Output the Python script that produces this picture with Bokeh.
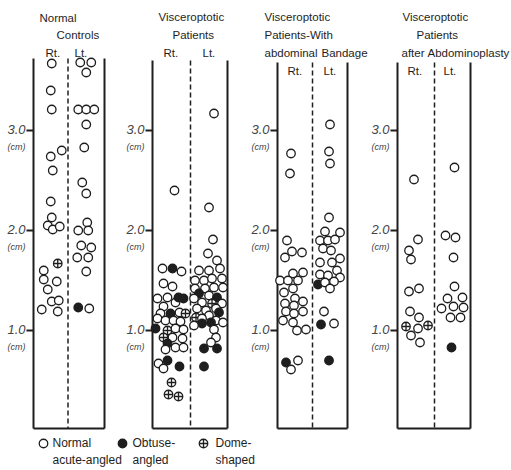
from bokeh.plotting import figure
from bokeh.models import Range1d, ColumnDataSource
from bokeh.embed import file_html
from bokeh.resources import INLINE
from bokeh.core.properties import value

# ---------------- data (cm), lateral offset in the column, kind ----------------
# kind: n = normal acute-angled, o = obtuse-angled, d = dome-shaped
tick_values = [1.0, 2.0, 3.0]
tick_labels = ["1.0", "2.0", "3.0"]
unit_label = "(cm)"
side_labels = ["Rt.", "Lt."]

nc_rt_cm = [3.67, 3.40, 3.21, 2.74, 2.80, 2.60, 2.29, 2.13, 2.05, 2.01, 2.04, 1.67,
            1.60, 1.51, 1.49, 1.41, 1.29, 1.30, 1.21, 1.19]
nc_rt_dx = [1, 0, 1, 0, 11, 2, 0, 1, -3, 2, 9, 7, -7, -7, 6, -3, 1, 8, -9, 7]
nc_rt_kind = list("nnnnnnnnnnnd" + "nnnnnnnn")

nc_lt_cm = [3.68, 3.68, 3.58, 3.21, 3.21, 3.21, 3.06, 2.83, 2.48, 2.37, 2.08, 2.00,
            2.00, 1.85, 1.83, 1.73, 1.73, 1.59, 1.23, 1.22]
nc_lt_dx = [-6, 5, 0, -8, 0, 8, 0, -2, -4, 0, 1, -8, 2, -5, 5, -9, 2, 0, -8, 3]
nc_lt_kind = list("nnnnnnnnnnnnnnnnnn" + "on")

vp_rt_cm = [2.40, 1.62, 1.62, 1.59, 1.47, 1.44, 1.32, 1.33, 1.28, 1.33, 1.32, 1.24,
            1.17, 1.17, 1.18, 1.17, 1.12, 1.10, 1.10, 1.09, 1.02, 1.00, 1.02, 1.01,
            0.93, 0.93, 0.92, 0.87, 0.83, 0.83, 0.81, 0.70, 0.67, 0.62, 0.64, 0.48,
            0.36, 0.34]
vp_rt_dx = [3, -9, 1, 10, -8, 1, -14, -4, 4, 7, 12, -8, -11, -1, 8, 14, -14, -6, 2, 9,
            -16, -4, 4, 12, -8, 1, 11, -4, 4, 12, -6, -4, -13, -8, 8, 0, -3, 7]
vp_rt_kind = list("nnonnnnnnoonnondnnnnodnndnnonnnonnoddd")

vp_lt_cm = [3.17, 2.23, 1.91, 1.77, 1.70, 1.60, 1.60, 1.62, 1.50, 1.50, 1.52, 1.52,
            1.42, 1.42, 1.43, 1.43, 1.37, 1.35, 1.33, 1.32, 1.28, 1.27, 1.27, 1.22,
            1.20, 1.22, 1.18, 1.15, 1.13, 1.12, 1.10, 1.08, 1.07, 1.08, 1.05, 1.01,
            0.93, 0.88, 0.82, 0.82, 0.64]
vp_lt_dx = [5, 0, 4, -1, 8, -10, 0, 11, -14, -5, 3, 13, -14, -4, 5, 14, -10, 0, 8, -15,
            -7, 3, 13, -12, -3, 7, 10, 0, -13, -7, 7, 14, -7, 2, -15, 5, 7, 2, -5, 8, -5]
vp_lt_kind = list("nnnnnnnnnnnnnnnn" + "ononndnnnnondnnnoonnnnooo")

ab_rt_cm = [2.77, 2.57, 1.90, 1.79, 1.78, 1.73, 1.57, 1.58, 1.50, 1.50, 1.50, 1.42,
            1.38, 1.32, 1.29, 1.27, 1.25, 1.19, 1.17, 1.19, 1.10, 1.08, 1.00, 1.01,
            0.68, 0.70, 0.61]
ab_rt_dx = [-4, -5, -8, -3, 7, -10, -2, 8, -15, -7, 3, -2, -11, 0, 8, -10, -1, -9, -1, 8,
            -12, -2, 2, 11, -9, 3, -4]
ab_rt_kind = list("nnnnnnnnnnnnnnnnnnnnnnnn" + "onn")

ab_lt_cm = [3.06, 2.79, 2.67, 2.13, 1.99, 1.98, 1.90, 1.90, 1.91, 1.82, 1.80, 1.68,
            1.68, 1.72, 1.60, 1.56, 1.55, 1.53, 1.46, 1.48, 1.49, 1.42, 1.19, 1.06,
            1.07, 0.70]
ab_lt_dx = [0, -1, 0, -1, -5, 10, -10, -2, 5, -7, 1, -10, 2, 10, 7, -10, -2, 10, -12, -5,
            4, 0, -6, -9, 4, -1]
ab_lt_kind = list("nnnnnnnnnnnnnnnnnn" + "onnnnono")

ap_rt_cm = [2.51, 1.91, 1.80, 1.71, 1.42, 1.39, 1.19, 1.13, 1.04, 1.02, 1.05, 0.95, 0.88]
ap_rt_dx = [-2, 2, -7, -5, 3, -7, -6, 3, -10, 2, 12, -5, 4]
ap_rt_kind = list("nnnnnnnndndnn")

ap_lt_cm = [2.63, 1.95, 1.93, 1.73, 1.44, 1.32, 1.33, 1.24, 1.22, 1.23, 1.13, 1.13, 0.83]
ap_lt_dx = [2, -7, 3, 1, 2, -5, 10, 1, -11, 11, -2, 8, -1]
ap_lt_kind = list("nnnnnnnnnnnno")

legend_kinds = ["n", "o", "d"]
legend_texts = [["Normal", "acute-angled"], ["Obtuse-", "angled"], ["Dome-", "shaped"]]

# ---------------- layout ----------------
W, H = 510, 469
PX_PER_CM = 100.0


def Y(px):
    """page-pixel row -> cm coordinate (layout only)"""
    return 1.0 + (330 - px) / PX_PER_CM


FONT = "Liberation Sans"
INK = "#1e1e1e"
HEAD_SIZE = "11.5px"

panels = [
    dict(left=33, right=104, mid=67.5, top=58,
         cols=[(nc_rt_cm, nc_rt_dx, nc_rt_kind), (nc_lt_cm, nc_lt_dx, nc_lt_kind)],
         head=[("Normal", 39, 17), ("Controls", 56, 34)], side_y=52,
         side_x=[45, 74]),
    dict(left=152, right=227, mid=190, top=60,
         cols=[(vp_rt_cm, vp_rt_dx, vp_rt_kind), (vp_lt_cm, vp_lt_dx, vp_lt_kind)],
         head=[("Visceroptotic", 158, 16), ("Patients", 172, 34)], side_y=52,
         side_x=[163, 202]),
    dict(left=277, right=347, mid=312, top=62,
         cols=[(ab_rt_cm, ab_rt_dx, ab_rt_kind), (ab_lt_cm, ab_lt_dx, ab_lt_kind)],
         head=[("Visceroptotic", 264, 16), ("Patients-With", 264, 34),
               ("abdominal", 264, 52), ("Bandage", 321, 52)], side_y=70,
         side_x=[287, 323]),
    dict(left=397, right=470, mid=434, top=62,
         cols=[(ap_rt_cm, ap_rt_dx, ap_rt_kind), (ap_lt_cm, ap_lt_dx, ap_lt_kind)],
         head=[("Visceroptotic", 402, 16), ("Patients", 416, 34),
               ("after", 401, 52), ("Abdominoplasty", 427, 52)], side_y=70,
         side_x=[407, 443]),
]
BOTTOM = 428

STYLE = {"n": ("circle", "white"), "o": ("circle", INK), "d": ("circle_cross", "white")}

p = figure(width=W, height=H, x_range=Range1d(0, W), y_range=Range1d(Y(H), Y(0)),
           output_backend="svg", toolbar_location=None, min_border=0,
           x_axis_location=None, y_axis_location=None, outline_line_color=None)
p.grid.visible = False
p.background_fill_color = "white"
p.border_fill_color = "white"

xs, ys, mk, fc = [], [], [], []
sx0, sy0, sx1, sy1 = [], [], [], []
tx, ty, tt = [], [], []
lx, ly, lt, ux, uy = [], [], [], [], []

for pn in panels:
    L, R, M, T = pn["left"], pn["right"], pn["mid"], pn["top"]
    # frame: left, right, bottom
    sx0 += [L, R, L]
    sy0 += [Y(T), Y(T), Y(BOTTOM)]
    sx1 += [L, R, R]
    sy1 += [Y(BOTTOM), Y(BOTTOM), Y(BOTTOM)]
    # ticks
    for v, lab in zip(tick_values, tick_labels):
        sx0.append(L - 7)
        sx1.append(L)
        sy0.append(v)
        sy1.append(v)
        lx.append(L - 8)
        ly.append(v + 0.01)
        lt.append(lab)
        ux.append(L - 8)
        uy.append(v - 0.16)
    # header
    for s, x, y in pn["head"]:
        tx.append(x)
        ty.append(Y(y))
        tt.append(s)
    for s, x in zip(side_labels, pn["side_x"]):
        tx.append(x)
        ty.append(Y(pn["side_y"]))
        tt.append(s)
    # points
    centers = [(L + M) / 2.0, (M + R) / 2.0]
    for c, (cm, dx, kind) in zip(centers, pn["cols"]):
        for v, d, k in zip(cm, dx, kind):
            xs.append(c + d)
            ys.append(v)
            mk.append(STYLE[k][0])
            fc.append(STYLE[k][1])

p.segment(x0=sx0, y0=sy0, x1=sx1, y1=sy1, line_color=INK, line_width=2)
p.segment(x0=[pn["mid"] for pn in panels], y0=[Y(pn["top"]) for pn in panels],
          x1=[pn["mid"] for pn in panels], y1=[Y(BOTTOM)] * len(panels),
          line_color=INK, line_width=1.5, line_dash="5 3")

src = ColumnDataSource(dict(x=xs, y=ys, marker=mk, fill=fc))
p.scatter("x", "y", marker="marker", fill_color="fill", line_color=INK, line_width=1.3,
          size=8.5, source=src)

p.text(x=tx, y=ty, text=tt, text_font=value(FONT), text_font_size=HEAD_SIZE,
       text_align="left", text_baseline="middle", text_color=INK)
p.text(x=lx, y=ly, text=lt, text_font=value(FONT), text_font_size="13px",
       text_font_style="italic", text_align="right", text_baseline="middle",
       text_color="#444")
p.text(x=ux, y=uy, text=[unit_label] * len(ux), text_font=value(FONT),
       text_font_size="9px", text_font_style="italic", text_align="right",
       text_baseline="middle", text_color="#444")

# legend
leg_x = [43, 122, 203]
leg_tx = [52, 132, 215]
p.scatter(x=leg_x, y=[Y(443)] * 3, marker=[STYLE[k][0] for k in legend_kinds],
          fill_color=[STYLE[k][1] for k in legend_kinds], line_color=INK,
          line_width=1.3, size=8.5)
ltx, lty, ltt = [], [], []
for x, (a, b) in zip(leg_tx, legend_texts):
    ltx += [x, x]
    lty += [Y(442), Y(459)]
    ltt += [a, b]
p.text(x=ltx, y=lty, text=ltt, text_font=value(FONT), text_font_size="12px",
       text_align="left", text_baseline="middle", text_color=INK)

open("out.html", "w").write(file_html(p, INLINE))
